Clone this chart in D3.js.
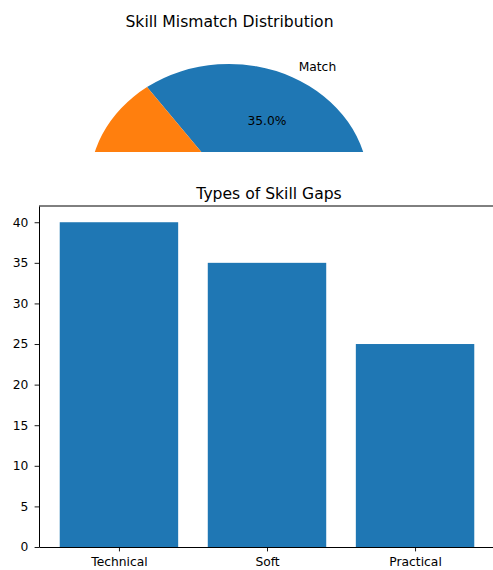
<!DOCTYPE html>
<html>
<head>
<meta charset="utf-8">
<script src="https://cdn.jsdelivr.net/npm/d3@7"></script>
<style>
  body { margin: 0; background: #fff; }
  svg { display: block; font-family: "DejaVu Sans", sans-serif; }
</style>
</head>
<body>
<svg id="chart" width="493" height="570"></svg>
<script>
// pie data
var pieLabels = ["Match", "Mismatch"];
var pieValues = [35, 65];
var pieColors = ["#1f77b4", "#ff7f0e"];

// bar data
var gapTypes = ["Technical", "Soft", "Practical"];
var gapValues = [40, 35, 25];
var yTicks = [0, 5, 10, 15, 20, 25, 30, 35, 40];

var svg = d3.select("#chart");

function drawPie() {
  var cx = 229, cy = 185, rx = 139.5, ry = 121;
  var r = 100;

  svg.append("text")
      .attr("x", 229.5)
      .attr("y", 26.5)
      .attr("font-size", "15.6px")
      .style("text-anchor", "middle")
      .text("Skill Mismatch Distribution");

  svg.append("clipPath")
      .attr("id", "pie-clip")
    .append("rect")
      .attr("x", 0)
      .attr("y", 34)
      .attr("width", 493)
      .attr("height", 118);

  // matplotlib starts at 3 o'clock and goes counter-clockwise
  var arcs = d3.pie()
               .sort(null)
               .startAngle(Math.PI / 2)
               .endAngle(Math.PI / 2 - 2 * Math.PI)
               .value(d => d)(pieValues);

  var path = d3.arc().innerRadius(0).outerRadius(r);

  var g = svg.append("g")
      .attr("clip-path", "url(#pie-clip)")
    .append("g")
      .attr("transform", "translate(" + cx + "," + cy + ") scale(" + (rx / r) + "," + (ry / r) + ")");

  g.selectAll(".arc")
    .data(arcs)
    .enter()
    .append("path")
      .classed("arc", true)
      .attr("fill", (d, i) => pieColors[i])
      .attr("d", path);

  var labels = svg.append("g").attr("clip-path", "url(#pie-clip)");
  var sum = d3.sum(pieValues);

  arcs.forEach((d, i) => {
    var mid = (d.startAngle + d.endAngle) / 2;
    var ux = Math.sin(mid), uy = -Math.cos(mid);
    labels.append("text")
        .attr("x", cx + 0.6 * rx * ux)
        .attr("y", cy + 0.6 * ry * uy)
        .attr("dy", "0.35em")
        .attr("font-size", "12.3px")
        .style("text-anchor", "middle")
        .text((100 * pieValues[i] / sum).toFixed(1) + "%");
    labels.append("text")
        .attr("x", cx + 1.1 * rx * ux)
        .attr("y", cy + 1.1 * ry * uy)
        .attr("dy", "0.35em")
        .attr("font-size", "12.3px")
        .style("text-anchor", ux > 0 ? "start" : "end")
        .text(pieLabels[i]);
  });
}

function drawBar() {
  var padding = { top: 206, right: 495, bottom: 547, left: 39 };

  var xScale = d3.scaleLinear()
                 .domain([-0.54, gapTypes.length - 1 + 0.54])
                 .range([padding.left, padding.right]);

  var yScale = d3.scaleLinear()
                 .domain([0, 42])
                 .range([padding.bottom, padding.top]);

  var barWidth = xScale(0.8) - xScale(0);

  svg.append("text")
      .attr("x", (padding.left + padding.right) / 2 + 2)
      .attr("y", 198.5)
      .attr("font-size", "15.6px")
      .style("text-anchor", "middle")
      .text("Types of Skill Gaps");

  svg.selectAll(".bar")
    .data(gapValues)
    .enter()
    .append("rect")
      .classed("bar", true)
      .attr("fill", "#1f77b4")
      .attr("x", (d, i) => xScale(i) - barWidth / 2)
      .attr("width", barWidth)
      .attr("y", d => yScale(d))
      .attr("height", d => yScale(0) - yScale(d));

  var xAxis = d3.axisBottom(xScale)
                .tickValues(d3.range(gapTypes.length))
                .tickFormat(i => gapTypes[i])
                .tickSize(4.4)
                .tickPadding(6.3)
                .tickSizeOuter(0);

  var yAxis = d3.axisLeft(yScale)
                .tickValues(yTicks)
                .tickSize(4.4)
                .tickPadding(6.3)
                .tickSizeOuter(0);

  var gx = svg.append("g")
      .attr("transform", "translate(0," + padding.bottom + ")")
      .call(xAxis);

  var gy = svg.append("g")
      .attr("transform", "translate(" + padding.left + ",0)")
      .call(yAxis);

  [gx, gy].forEach(g => {
    g.selectAll("text")
        .attr("font-size", "12.3px")
        .attr("font-family", "DejaVu Sans, sans-serif")
        .attr("fill", "#000");
    g.selectAll("line").attr("stroke", "#000").attr("stroke-width", 0.9);
    g.select(".domain").attr("stroke", "#000").attr("stroke-width", 1);
  });

  // top and right spines
  svg.append("line")
      .attr("x1", padding.left).attr("x2", padding.right)
      .attr("y1", padding.top).attr("y2", padding.top)
      .attr("stroke", "#000");
  svg.append("line")
      .attr("x1", padding.right).attr("x2", padding.right)
      .attr("y1", padding.top).attr("y2", padding.bottom)
      .attr("stroke", "#000");
}

drawPie();
drawBar();
</script>
</body>
</html>
